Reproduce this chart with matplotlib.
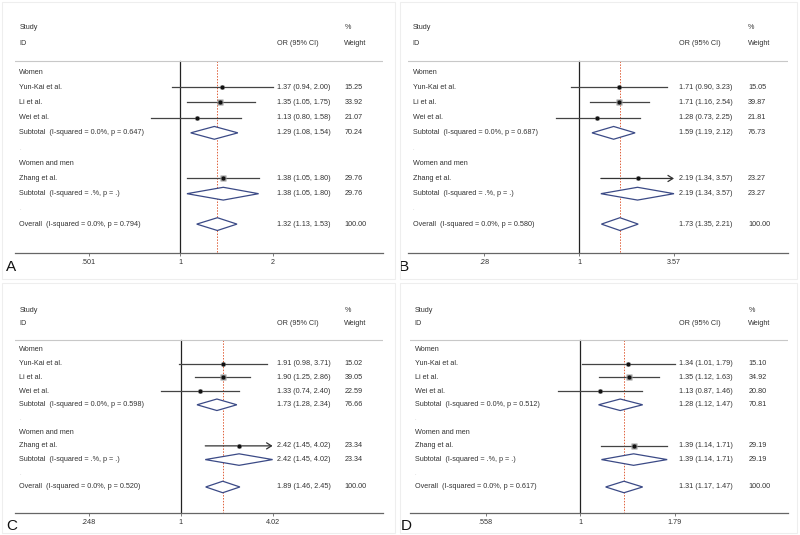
import numpy as np
import matplotlib
matplotlib.use("Agg")
import matplotlib.pyplot as plt
from matplotlib.patches import Rectangle

plt.rcParams['font.family'] = ['Liberation Sans', 'DejaVu Sans']

# study rows (same for every panel)
studies = ["Yun-Kai et al.", "Li et al.", "Wei et al.", "Zhang et al."]

# panel A
a_or = [1.37, 1.35, 1.13, 1.38]
a_lo = [0.94, 1.05, 0.80, 1.05]
a_hi = [2.00, 1.75, 1.58, 1.80]
a_w = [15.25, 33.92, 21.07, 29.76]
a_sub = [1.29, 1.08, 1.54, 70.24, "0.647"]
a_all = [1.32, 1.13, 1.53, 100.00, "0.794"]
a_ticks = [0.501, 1, 2]
a_ticklabels = [".501", "1", "2"]
a_arrow = [False, False, False, False]

# panel B
b_or = [1.71, 1.71, 1.28, 2.19]
b_lo = [0.90, 1.16, 0.73, 1.34]
b_hi = [3.23, 2.54, 2.25, 3.57]
b_w = [15.05, 39.87, 21.81, 23.27]
b_sub = [1.59, 1.19, 2.12, 76.73, "0.687"]
b_all = [1.73, 1.35, 2.21, 100.00, "0.580"]
b_ticks = [0.28, 1, 3.57]
b_ticklabels = [".28", "1", "3.57"]
b_arrow = [False, False, False, True]

# panel C
c_or = [1.91, 1.90, 1.33, 2.42]
c_lo = [0.98, 1.25, 0.74, 1.45]
c_hi = [3.71, 2.86, 2.40, 4.02]
c_w = [15.02, 39.05, 22.59, 23.34]
c_sub = [1.73, 1.28, 2.34, 76.66, "0.598"]
c_all = [1.89, 1.46, 2.45, 100.00, "0.520"]
c_ticks = [0.248, 1, 4.02]
c_ticklabels = [".248", "1", "4.02"]
c_arrow = [False, False, False, True]

# panel D
d_or = [1.34, 1.35, 1.13, 1.39]
d_lo = [1.01, 1.12, 0.87, 1.14]
d_hi = [1.79, 1.63, 1.46, 1.71]
d_w = [15.10, 34.92, 20.80, 29.19]
d_sub = [1.28, 1.12, 1.47, 70.81, "0.512"]
d_all = [1.31, 1.17, 1.47, 100.00, "0.617"]
d_ticks = [0.558, 1, 1.79]
d_ticklabels = [".558", "1", "1.79"]
d_arrow = [False, False, False, False]

W, H = 800, 535
TXT = "#333333"
DIAM = "#3b4a86"
FS = 5.2


def forest(ax, est, lo, hi, w, sub, tot, ticks, ticklabels, arrow, letter):
    ax.set_xscale("log")
    # forest region covers 20%..70% of the panel width
    l0, l1 = np.log(ticks[0]), np.log(ticks[-1])
    span = (l1 - l0) / 0.5
    left = l0 - 0.2 * span
    ax.set_xlim(np.exp(left), np.exp(left + span))
    ax.set_ylim(11.9, -3.4)
    for s in ["top", "left", "right"]:
        ax.spines[s].set_visible(False)
    ax.spines["bottom"].set_color("#666666")
    ax.spines["bottom"].set_linewidth(0.9)
    ax.set_yticks([])
    ax.minorticks_off()
    ax.set_xticks(ticks)
    ax.set_xticklabels(ticklabels, fontsize=FS, color=TXT)
    ax.tick_params(axis="x", length=2.5, width=0.6, color="#666666", pad=2)

    tr = ax.get_yaxis_transform()
    xl, xc, xw = 0.012, 0.712, 0.895
    kw = dict(fontsize=FS, color=TXT, va="center", transform=tr)

    ax.text(xl, -2.9, "Study", **kw)
    ax.text(xl, -1.9, "ID", **kw)
    ax.text(xc, -1.9, "OR (95% CI)", **kw)
    ax.text(xw, -2.9, "%", **kw)
    ax.text(xw, -1.9, "Weight", **kw)
    ax.axhline(-0.7, color="#c8c8c8", lw=0.8)

    ax.plot([1, 1], [-0.7, 11.9], color="#222222", lw=0.9, zorder=1)
    ax.plot([tot[0], tot[0]], [-0.7, 11.9], color="#e0603a", lw=0.7,
            ls=(0, (1.5, 1.5)), zorder=1)

    rows = [1, 2, 3, 7]
    ax.text(xl, 0, "Women", **kw)
    ax.text(xl, 6, "Women and men", **kw)
    ax.text(xl, 5, ".", fontsize=4, color="#bbbbbb", va="center", transform=tr)
    ax.text(xl, 9, ".", fontsize=4, color="#bbbbbb", va="center", transform=tr)
    for i, r in enumerate(rows):
        ax.text(xl, r, studies[i], **kw)
        if arrow[i]:
            ax.annotate("", xy=(hi[i], r), xytext=(lo[i], r),
                        arrowprops=dict(arrowstyle="->,head_length=0.35,head_width=0.22",
                                        color="#333333", lw=0.9, shrinkA=0, shrinkB=0))
        else:
            ax.plot([lo[i], hi[i]], [r, r], color="#444444", lw=0.9)
        ax.plot(est[i], r, marker="s", ms=np.sqrt(w[i]) * 0.7, color="#999999",
                mec="none", zorder=3)
        ax.plot(est[i], r, marker="o", ms=2.0, color="#111111", zorder=4)
        ax.text(xc, r, f"{est[i]:.2f} ({lo[i]:.2f}, {hi[i]:.2f})", **kw)
        ax.text(xw, r, f"{w[i]:.2f}", **kw)

    # diamonds: women subtotal, single-study subtotal, overall
    z = [est[3], lo[3], hi[3], w[3], "."]
    diam = [(4, sub, f"Subtotal  (I-squared = 0.0%, p = {sub[4]})"),
            (8, z, "Subtotal  (I-squared = .%, p = .)"),
            (10, tot, f"Overall  (I-squared = 0.0%, p = {tot[4]})")]
    h = 0.42
    for r, d, lab in diam:
        ax.fill([d[1], d[0], d[2], d[0]], [r, r - h, r, r + h],
                facecolor="white", edgecolor=DIAM, lw=0.9, zorder=3)
        ax.text(xl, r, lab, **kw)
        ax.text(xc, r, f"{d[0]:.2f} ({d[1]:.2f}, {d[2]:.2f})", **kw)
        ax.text(xw, r, f"{d[3]:.2f}", **kw)

    ax.text(-0.01, -0.06, letter, transform=ax.transAxes, fontsize=11,
            color="#111111", ha="center", va="center")


fig = plt.figure(figsize=(W / 100, H / 100), dpi=100)

# faint panel frames
for (x0, y0, x1, y1) in [(2, 2, 395, 279), (400, 2, 797, 279),
                         (2, 283, 395, 533), (400, 283, 797, 533)]:
    fig.patches.append(Rectangle((x0 / W, 1 - y1 / H), (x1 - x0) / W, (y1 - y0) / H,
                                 transform=fig.transFigure, fill=False,
                                 edgecolor="#eeeeee", lw=0.8))

panels = [
    ((15, 20.3, 383, 253), (a_or, a_lo, a_hi, a_w, a_sub, a_all, a_ticks, a_ticklabels, a_arrow, "A")),
    ((408, 20.3, 788, 253), (b_or, b_lo, b_hi, b_w, b_sub, b_all, b_ticks, b_ticklabels, b_arrow, "B")),
    ((15, 303.4, 383, 513), (c_or, c_lo, c_hi, c_w, c_sub, c_all, c_ticks, c_ticklabels, c_arrow, "C")),
    ((410, 303.4, 788, 513), (d_or, d_lo, d_hi, d_w, d_sub, d_all, d_ticks, d_ticklabels, d_arrow, "D")),
]
for (x0, y0, x1, y1), args in panels:
    ax = fig.add_axes([x0 / W, 1 - y1 / H, (x1 - x0) / W, (y1 - y0) / H])
    ax.patch.set_alpha(0)
    forest(ax, *args)

fig.savefig("out.png", dpi=100)
